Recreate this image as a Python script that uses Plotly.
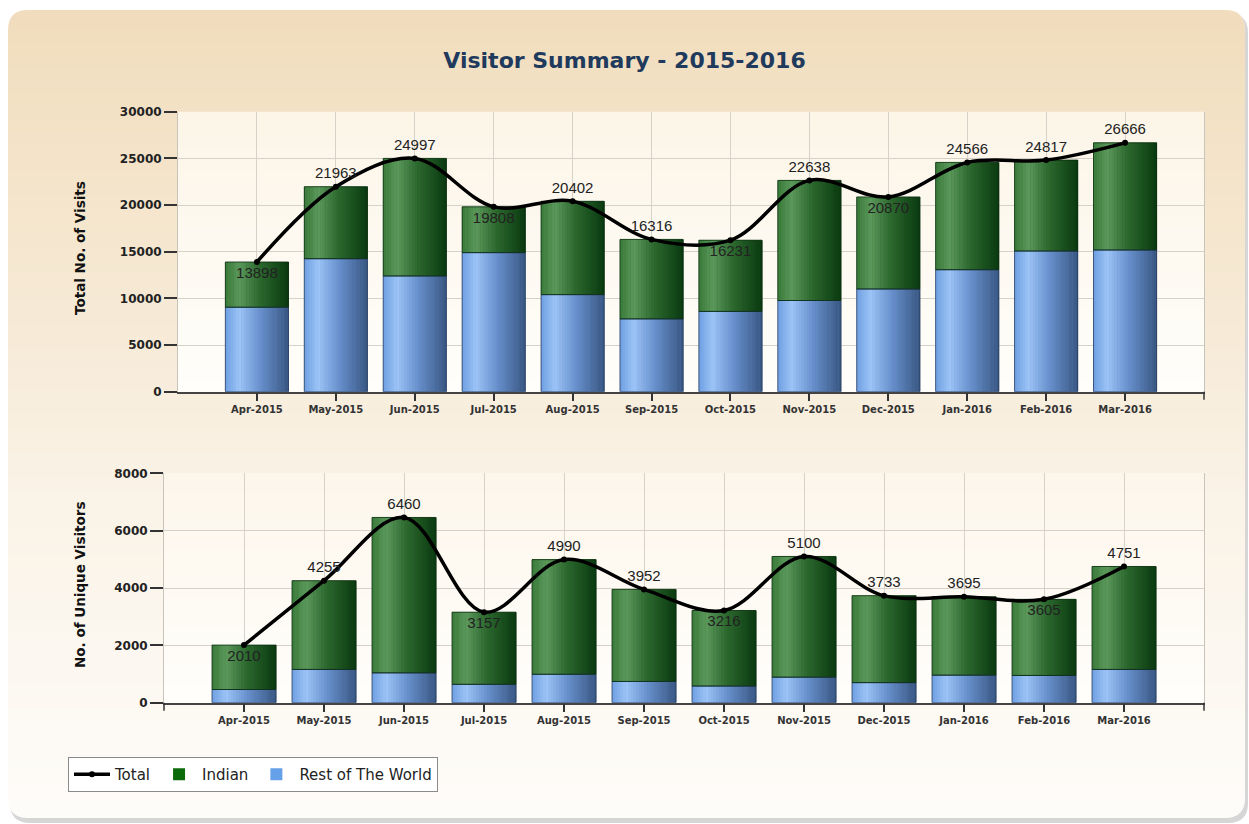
import plotly.graph_objects as go

# ---------------- data ----------------
months = ["Apr-2015", "May-2015", "Jun-2015", "Jul-2015", "Aug-2015", "Sep-2015",
          "Oct-2015", "Nov-2015", "Dec-2015", "Jan-2016", "Feb-2016", "Mar-2016"]

visits_total = [13898, 21963, 24997, 19808, 20402, 16316, 16231, 22638, 20870, 24566, 24817, 26666]
visits_rest = [9050, 14250, 12400, 14900, 10400, 7800, 8600, 9770, 11000, 13070, 15070, 15180]
visits_indian = [4848, 7713, 12597, 4908, 10002, 8516, 7631, 12868, 9870, 11496, 9747, 11486]

uniq_total = [2010, 4255, 6460, 3157, 4990, 3952, 3216, 5100, 3733, 3695, 3605, 4751]
uniq_rest = [460, 1160, 1040, 640, 990, 740, 580, 890, 700, 960, 950, 1160]
uniq_indian = [1550, 3095, 5420, 2517, 4000, 3212, 2636, 4210, 3033, 2735, 2655, 3591]

visits_ticks = [0, 5000, 10000, 15000, 20000, 25000, 30000]
uniq_ticks = [0, 2000, 4000, 6000, 8000]

# label placement (style)
visits_textpos = ["bottom center", "top center", "top center", "bottom center", "top center", "top center",
                  "bottom center", "top center", "bottom center", "top center", "top center", "top center"]
uniq_textpos = ["bottom center", "top center", "top center", "bottom center", "top center", "top center",
                "bottom center", "top center", "top center", "top center", "bottom center", "top center"]

# ---------------- geometry helpers ----------------
W, H = 1249, 824


def px(x):
    return x / W


def py(y):
    return 1 - y / H


def lerp(c0, c1, t):
    return tuple(round(a + (b - a) * t) for a, b in zip(c0, c1))


def grad(stops, t):
    for (t0, c0), (t1, c1) in zip(stops, stops[1:]):
        if t <= t1:
            return lerp(c0, c1, (t - t0) / (t1 - t0) if t1 > t0 else 0)
    return stops[-1][1]


def rgb(c):
    return "rgb(%d,%d,%d)" % c


def rounded_path(x0, y0, x1, y1, r, top=True, bottom=True):
    def P(x, y):
        return "%.5f,%.5f" % (px(x), py(y))
    s = ""
    if top:
        s += "M" + P(x0, y0 + r) + " Q" + P(x0, y0) + " " + P(x0 + r, y0)
        s += " L" + P(x1 - r, y0) + " Q" + P(x1, y0) + " " + P(x1, y0 + r)
    else:
        s += "M" + P(x0, y0) + " L" + P(x1, y0)
    if bottom:
        s += " L" + P(x1, y1 - r) + " Q" + P(x1, y1) + " " + P(x1 - r, y1)
        s += " L" + P(x0 + r, y1) + " Q" + P(x0, y1) + " " + P(x0, y1 - r)
    else:
        s += " L" + P(x1, y1) + " L" + P(x0, y1)
    s += " Z"
    return s


shapes = []
# shadow
shapes.append(dict(type="path", path=rounded_path(10, 13, 1248, 823, 20), xref="paper", yref="paper",
                   fillcolor="rgb(214,214,214)", line=dict(width=0), layer="below"))
# panel gradient
pstops = [(10, (241, 221, 189)), (300, (246, 233, 212)), (500, (250, 243, 231)), (818, (254, 252, 249))]
ptop, pbot, R = 10, 818, 20
shapes.append(dict(type="path", path=rounded_path(8, ptop, 1245, pbot, R), xref="paper", yref="paper",
                   fillcolor=rgb(pstops[-1][1]), line=dict(width=0), layer="below"))
shapes.append(dict(type="path", path=rounded_path(8, ptop, 1245, ptop + R, R, top=True, bottom=False),
                   xref="paper", yref="paper", fillcolor=rgb(pstops[0][1]), line=dict(width=0), layer="below"))
nstrip = 60
y_a, y_b = ptop + R, pbot - R
for i in range(nstrip):
    ya = y_a + (y_b - y_a) * i / nstrip
    yb = y_a + (y_b - y_a) * (i + 1) / nstrip + 0.6
    c = grad(pstops, (ya + yb) / 2)
    shapes.append(dict(type="rect", xref="paper", yref="paper", x0=px(8), x1=px(1245), y0=py(yb), y1=py(ya),
                       fillcolor=rgb(c), line=dict(width=0), layer="below"))

# plot-area backgrounds
top_dom_x = [px(178), px(1204)]
bot_dom_x = [px(164), px(1204)]
top_dom_y = [py(391.7), py(111.7)]
bot_dom_y = [py(702.7), py(473.3)]


def plot_bg(x0p, x1p, y0p, y1p, ctop, cbot, n=24):
    for i in range(n):
        ya = y0p + (y1p - y0p) * i / n
        yb = y0p + (y1p - y0p) * (i + 1) / n + 0.6
        c = lerp(ctop, cbot, (i + 0.5) / n)
        shapes.append(dict(type="rect", xref="paper", yref="paper", x0=px(x0p), x1=px(x1p),
                           y0=py(yb), y1=py(ya), fillcolor=rgb(c), line=dict(width=0), layer="below"))


plot_bg(178, 1204, 111.7, 391.7, (252, 245, 232), (255, 254, 250))
plot_bg(164, 1204, 473.3, 702.7, (253, 246, 235), (255, 254, 251))

# end ticks on x axes
for (xe, ye) in [(1204, 391.7), (1204, 702.7), (164, 702.7)]:
    shapes.append(dict(type="line", xref="paper", yref="paper", x0=px(xe), x1=px(xe), y0=py(ye), y1=py(ye + 8),
                       line=dict(color="#333333", width=1.5)))

# ---------------- traces ----------------
fig = go.Figure()

BW = 0.8
NS = 24
blue_stops = [(0.0, (112, 160, 226)), (0.22, (156, 196, 246)), (0.55, (104, 144, 204)), (1.0, (56, 86, 130))]
green_stops = [(0.0, (58, 122, 58)), (0.22, (92, 152, 92)), (0.55, (44, 104, 46)), (1.0, (10, 56, 16))]

LEG_GREEN = "#0b6b0b"
LEG_BLUE = "#66a0e8"


def add_bars(xa, ya, rest, indian, legend):
    fig.add_trace(go.Bar(x=months, y=indian, base=rest, width=BW, name="Indian",
                         marker=dict(color=LEG_GREEN, line=dict(width=0)),
                         xaxis=xa, yaxis=ya, showlegend=legend, legendrank=2, hoverinfo="skip"))
    fig.add_trace(go.Bar(x=months, y=rest, base=[0] * len(rest), width=BW, name="Rest of The World",
                         marker=dict(color=LEG_BLUE, line=dict(width=0)),
                         xaxis=xa, yaxis=ya, showlegend=legend, legendrank=3, hoverinfo="skip"))
    for i in range(NS):
        t = (i + 0.5) / NS
        off = -BW / 2 + i * BW / NS
        w = BW / NS + 0.004
        fig.add_trace(go.Bar(x=months, y=rest, base=[0] * len(rest), width=w, offset=off,
                             marker=dict(color=rgb(grad(blue_stops, t)), line=dict(width=0)),
                             xaxis=xa, yaxis=ya, showlegend=False, hoverinfo="skip"))
        fig.add_trace(go.Bar(x=months, y=indian, base=rest, width=w, offset=off,
                             marker=dict(color=rgb(grad(green_stops, t)), line=dict(width=0)),
                             xaxis=xa, yaxis=ya, showlegend=False, hoverinfo="skip"))
    fig.add_trace(go.Bar(x=months, y=rest, base=[0] * len(rest), width=BW,
                         marker=dict(color="rgba(0,0,0,0)", line=dict(width=1, color="rgba(40,60,95,0.8)")),
                         xaxis=xa, yaxis=ya, showlegend=False, hoverinfo="skip"))
    fig.add_trace(go.Bar(x=months, y=indian, base=rest, width=BW,
                         marker=dict(color="rgba(0,0,0,0)", line=dict(width=1, color="rgba(10,45,15,0.8)")),
                         xaxis=xa, yaxis=ya, showlegend=False, hoverinfo="skip"))


add_bars("x", "y", visits_rest, visits_indian, True)
add_bars("x2", "y2", uniq_rest, uniq_indian, False)

label_font = dict(family="Liberation Sans, Arial, sans-serif", size=15, color="#222222")
fig.add_trace(go.Scatter(x=months, y=visits_total, mode="lines+markers+text", name="Total",
                         text=[str(v) for v in visits_total], textposition=visits_textpos, textfont=label_font,
                         line=dict(color="black", width=3.5, shape="spline", smoothing=1.0),
                         marker=dict(color="black", size=6), cliponaxis=False,
                         xaxis="x", yaxis="y", showlegend=True, legendrank=1, hoverinfo="skip"))
fig.add_trace(go.Scatter(x=months, y=uniq_total, mode="lines+markers+text", name="Total",
                         text=[str(v) for v in uniq_total], textposition=uniq_textpos, textfont=label_font,
                         line=dict(color="black", width=3.5, shape="spline", smoothing=1.0),
                         marker=dict(color="black", size=6), cliponaxis=False,
                         xaxis="x2", yaxis="y2", showlegend=False, hoverinfo="skip"))

# ---------------- axes ----------------
xtickfont = dict(family="DejaVu Sans, sans-serif", size=10, color="#333333", weight="bold")
ytickfont = dict(family="DejaVu Sans, sans-serif", size=12, color="#222222", weight="bold")
grid = "#d6d2ca"

common_x = dict(type="category", categoryorder="array", categoryarray=months, range=[-1, 12],
                showgrid=True, gridcolor=grid, gridwidth=1, showline=True, linecolor="#444444", linewidth=1.5,
                ticks="outside", ticklen=8, tickcolor="#333333", tickwidth=1.5, tickfont=xtickfont,
                zeroline=False, fixedrange=True, automargin=False)
common_y = dict(showgrid=True, gridcolor=grid, gridwidth=1, showline=True, linecolor="#c8c4bc", linewidth=1,
                mirror=True, ticks="outside", ticklen=13, tickcolor="#333333", tickwidth=1.5, tickfont=ytickfont,
                zeroline=False, fixedrange=True, automargin=False)

title_font = dict(family="DejaVu Sans, sans-serif", size=13.5, color="#111111", weight="bold")

fig.update_layout(
    width=W, height=H,
    margin=dict(l=0, r=0, t=0, b=0, pad=0, autoexpand=False),
    paper_bgcolor="white", plot_bgcolor="rgba(0,0,0,0)",
    barmode="overlay", bargap=0.2,
    xaxis=dict(domain=top_dom_x, anchor="y", **common_x),
    yaxis=dict(domain=top_dom_y, anchor="x", range=[0, 30000], tickvals=visits_ticks,
               ticktext=[str(v) for v in visits_ticks], **common_y),
    xaxis2=dict(domain=bot_dom_x, anchor="y2", **common_x),
    yaxis2=dict(domain=bot_dom_y, anchor="x2", range=[0, 8000], tickvals=uniq_ticks,
                ticktext=[str(v) for v in uniq_ticks], **common_y),
    title=dict(text="Visitor Summary - 2015-2016", x=0.5, xanchor="center", y=py(60), yanchor="middle",
               font=dict(family="DejaVu Sans, sans-serif", size=22, color="#1f3a5c", weight="bold")),
    legend=dict(orientation="h", x=px(68), y=py(757), xanchor="left", yanchor="top",
                bgcolor="white", bordercolor="#8a8a8a", borderwidth=1,
                font=dict(family="DejaVu Sans, sans-serif", size=15, color="#222222"),
                traceorder="normal", itemclick=False, itemdoubleclick=False, itemwidth=36),
    shapes=shapes,
    annotations=[
        dict(text="Total No. of Visits", x=px(80), y=py(248), xref="paper", yref="paper", showarrow=False,
             xanchor="center", yanchor="middle", textangle=-90, font=title_font),
        dict(text="No. of Unique Visitors", x=px(80), y=py(585), xref="paper", yref="paper", showarrow=False,
             xanchor="center", yanchor="middle", textangle=-90, font=title_font),
    ],
    hovermode=False,
)

fig.write_html("out.html", config={"displayModeBar": False, "staticPlot": False},
               post_script="document.body.style.margin='0px';document.body.style.overflow='hidden';")
